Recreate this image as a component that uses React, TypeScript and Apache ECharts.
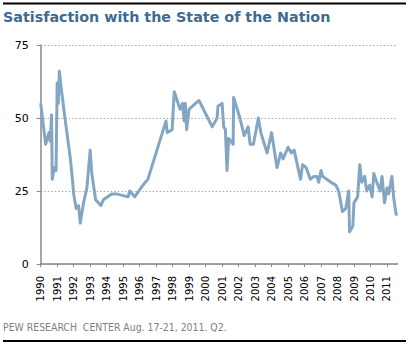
import React, { useEffect, useRef } from "react";
import * as echarts from "echarts";

const TITLE = "Satisfaction with the State of the Nation";
const FOOTER = "PEW RESEARCH  CENTER Aug. 17-21, 2011. Q2.";
const YEARS = [1990, 1991, 1992, 1993, 1994, 1995, 1996, 1997, 1998, 1999, 2000, 2001, 2002, 2003, 2004, 2005, 2006, 2007, 2008, 2009, 2010, 2011];
const Y_TICKS = [0, 25, 50, 75];

const DATES = [
  1990.0, 1990.3, 1990.5, 1990.58, 1990.66, 1990.7, 1990.83, 1990.93, 1991.0, 1991.07, 1991.13, 1991.25,
  1991.47, 1991.8, 1991.94, 1992.0, 1992.15, 1992.3, 1992.4, 1992.6, 1992.8, 1993.0, 1993.1, 1993.33,
  1993.65, 1993.8, 1994.3, 1994.6, 1995.3, 1995.4, 1995.7, 1996.2, 1996.5, 1997.6, 1997.67, 1997.97,
  1998.1, 1998.45, 1998.6, 1998.7, 1998.77, 1998.85, 1999.0, 1999.6, 2000.4, 2000.7, 2000.75, 2001.0,
  2001.1, 2001.2, 2001.3, 2001.4, 2001.67, 2001.7, 2002.08, 2002.34, 2002.58, 2002.7, 2002.9, 2003.2,
  2003.35, 2003.73, 2004.0, 2004.33, 2004.55, 2004.7, 2005.0, 2005.2, 2005.37, 2005.76, 2005.88, 2006.1,
  2006.35, 2006.57, 2006.75, 2006.86, 2007.0, 2007.1, 2007.6, 2007.9, 2008.07, 2008.3, 2008.5, 2008.68,
  2008.73, 2008.93, 2009.0, 2009.22, 2009.35, 2009.47, 2009.65, 2009.77, 2009.95, 2010.1, 2010.2, 2010.38,
  2010.58, 2010.7, 2010.85, 2011.0, 2011.1, 2011.3, 2011.4, 2011.55, 2011.65
];

const VALUES = [
  55, 41, 45, 42, 51, 29, 33, 32, 62, 55, 66, 60,
  50, 36, 28, 24, 19, 20, 14, 21, 26, 39, 31, 22,
  20, 22, 24, 24, 23, 25, 23, 27, 29, 49, 45, 46,
  59, 53, 55, 49, 55, 46, 53, 56, 47, 50, 54, 55,
  47, 46, 32, 43, 41, 57, 50, 44, 47, 41, 41, 50,
  45, 38, 45, 33, 38, 36, 40, 38, 39, 29, 34, 33,
  29, 30, 30, 28, 32, 30, 28, 27, 25, 18, 19, 25,
  11, 13, 21, 23, 34, 28, 30, 25, 27, 23, 31, 28,
  25, 30, 21, 26, 24, 30, 23, 17, 17
];

export default function App() {
  const ref = useRef<HTMLDivElement>(null);
  useEffect(() => {
    if (!ref.current) return;
    const chart = echarts.init(ref.current, null, { renderer: "svg" });
    const data = DATES.map((d, i) => [d, VALUES[i]]);
    chart.setOption({
      animation: false,
      backgroundColor: "#fff",
      grid: { left: 40.7, right: 11.3, top: 45, bottom: 81 },
      graphic: [
        { type: "line", shape: { x1: 3, y1: 3.5, x2: 406, y2: 3.5 }, style: { stroke: "#000", lineWidth: 2 } },
        { type: "line", shape: { x1: 3, y1: 341, x2: 406, y2: 341 }, style: { stroke: "#000", lineWidth: 2 } },
        {
          type: "text", left: 3, top: 10,
          style: { text: TITLE, fill: "#3f6b91", font: "bold 14.3px 'DejaVu Sans', sans-serif" }
        },
        {
          type: "text", left: 3, top: 322,
          style: { text: FOOTER, fill: "#808080", font: "10.4px 'DejaVu Sans Condensed', 'DejaVu Sans', sans-serif" }
        }
      ],
      xAxis: {
        type: "value",
        min: 1990,
        max: 2011.65,
        interval: 1,
        axisLine: { show: true, lineStyle: { color: "#888", width: 1.5 } },
        axisTick: { show: true, length: 3, lineStyle: { color: "#888" }, customValues: YEARS },
        axisLabel: {
          rotate: 90, margin: 12, color: "#000", fontSize: 10,
          fontFamily: "'DejaVu Sans', sans-serif",
          customValues: YEARS,
          formatter: (v: number) => String(Math.round(v))
        },
        splitLine: { show: false }
      },
      yAxis: {
        type: "value",
        min: 0,
        max: 75,
        interval: 25,
        axisLine: { show: true, lineStyle: { color: "#888", width: 1.5 } },
        axisTick: { show: true, length: 4, lineStyle: { color: "#888" }, customValues: Y_TICKS },
        axisLabel: { margin: 12, color: "#000", fontSize: 11, fontFamily: "'DejaVu Sans', sans-serif", customValues: Y_TICKS },
        splitLine: { show: true, lineStyle: { color: "#aaa", type: [1.5, 2], width: 1 } }
      },
      series: [
        {
          type: "line",
          data,
          showSymbol: false,
          symbol: "none",
          lineStyle: { color: "#84a6c2", width: 3, join: "round" },
          emphasis: { disabled: true }
        }
      ]
    });
    return () => chart.dispose();
  }, []);
  return <div ref={ref} style={{ width: 409, height: 345, position: "absolute", left: 0, top: 0 }} />;
}
